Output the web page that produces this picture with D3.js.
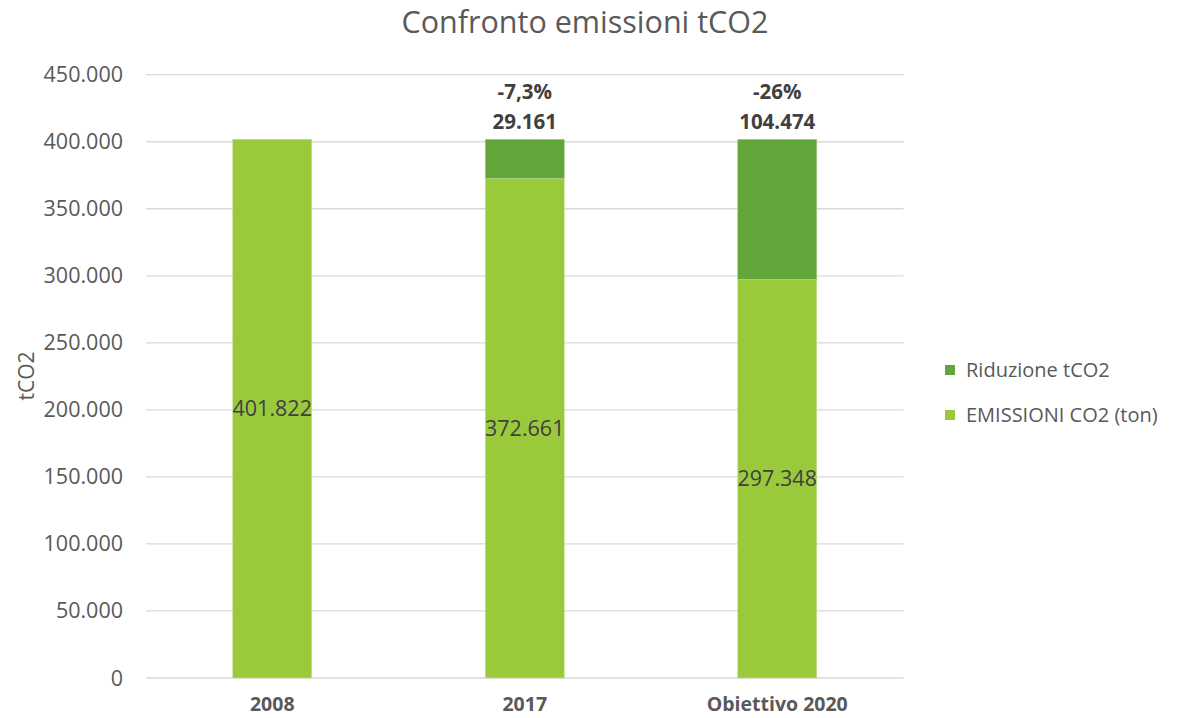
<!DOCTYPE html>
<html>
<head>
<meta charset="utf-8">
<script src="https://cdn.jsdelivr.net/npm/d3@7"></script>
<style>
body { margin: 0; background: #fff; }
svg text { font-family: "Open Sans", "Noto Sans", sans-serif; }
</style>
</head>
<body>
<svg id="chart" width="1177" height="718"></svg>
<script>
var categories = ['2008', '2017', 'Obiettivo 2020'];
var emissioni = [401822, 372661, 297348];
var riduzione = [0, 29161, 104474];
var riduzioneLabel = ['', '29.161', '104.474'];
var percentLabel = ['', '-7,3%', '-26%'];
var yTicks = [0, 50000, 100000, 150000, 200000, 250000, 300000, 350000, 400000, 450000];

var cLight = '#9aca3c', cDark = '#62a539';
var fmt = function(v) { return d3.format(',')(v).replace(/,/g, '.'); };

var svg = d3.select('#chart');
var x = d3.scaleBand().domain(categories).range([146, 903.5]).paddingInner(0.687).paddingOuter(0.3435);
var y = d3.scaleLinear().domain([0, 450000]).range([678, 74.7]);

// title
svg.append('text').attr('x', 585).attr('y', 33).attr('text-anchor', 'middle')
    .attr('font-size', 30.5).attr('fill', '#595959').text('Confronto emissioni tCO2');

// grid
svg.selectAll('.grid').data(yTicks).enter().append('line')
    .attr('x1', 146).attr('x2', 903.5)
    .attr('y1', function(d) { return y(d); }).attr('y2', function(d) { return y(d); })
    .attr('stroke', '#d9d9d9').attr('stroke-width', 1.3);

svg.selectAll('.ytick').data(yTicks).enter().append('text')
    .attr('x', 123).attr('y', function(d) { return y(d); }).attr('dy', '0.35em')
    .attr('text-anchor', 'end').attr('font-size', 21.5).attr('fill', '#595959')
    .text(function(d) { return fmt(d); });

svg.append('text').attr('transform', 'translate(34,' + 376 + ') rotate(-90)')
    .attr('text-anchor', 'middle').attr('font-size', 21).attr('fill', '#595959').text('tCO2');

// bars
var g = svg.append('g');
categories.forEach(function(c, i) {
    g.append('rect').attr('x', x(c)).attr('width', x.bandwidth())
        .attr('y', y(emissioni[i])).attr('height', y(0) - y(emissioni[i]))
        .attr('fill', cLight).attr('stroke', '#c8e29a').attr('stroke-width', 0.6);
    if (riduzione[i] > 0) {
        g.append('rect').attr('x', x(c)).attr('width', x.bandwidth())
            .attr('y', y(emissioni[i] + riduzione[i])).attr('height', y(emissioni[i]) - y(emissioni[i] + riduzione[i]))
            .attr('fill', cDark).attr('stroke', '#a9cf8f').attr('stroke-width', 0.6);
    }
    g.append('text').attr('x', x(c) + x.bandwidth() / 2).attr('y', y(emissioni[i] / 2)).attr('dy', '0.35em')
        .attr('text-anchor', 'middle').attr('font-size', 21.5).attr('fill', '#404040').text(fmt(emissioni[i]));
    if (riduzioneLabel[i]) {
        var top = y(emissioni[i] + riduzione[i]);
        g.append('text').attr('x', x(c) + x.bandwidth() / 2).attr('y', top - 10)
            .attr('text-anchor', 'middle').attr('font-size', 20.5).attr('font-weight', 'bold')
            .attr('fill', '#404040').text(riduzioneLabel[i]);
        g.append('text').attr('x', x(c) + x.bandwidth() / 2).attr('y', top - 40)
            .attr('text-anchor', 'middle').attr('font-size', 20.5).attr('font-weight', 'bold')
            .attr('fill', '#404040').text(percentLabel[i]);
    }
    g.append('text').attr('x', x(c) + x.bandwidth() / 2).attr('y', 711)
        .attr('text-anchor', 'middle').attr('font-size', 19.5).attr('font-weight', 'bold')
        .attr('fill', '#595959').text(c);
});

// legend
var legend = [['Riduzione tCO2', cDark], ['EMISSIONI CO2 (ton)', cLight]];
legend.forEach(function(l, i) {
    var ly = 370 + i * 45;
    svg.append('rect').attr('x', 945).attr('y', ly - 5).attr('width', 10).attr('height', 10).attr('fill', l[1]);
    svg.append('text').attr('x', 966).attr('y', ly).attr('dy', '0.35em')
        .attr('font-size', 20).attr('fill', '#595959').text(l[0]);
});
</script>
</body>
</html>
